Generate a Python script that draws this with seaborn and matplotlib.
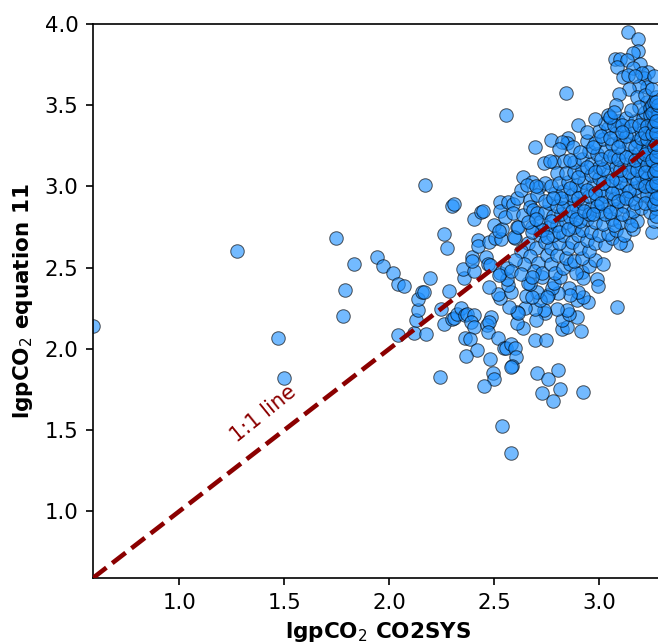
import matplotlib
matplotlib.use("Agg")
import matplotlib.pyplot as plt
import pandas as pd
import seaborn as sns

low_tail = [(0.59,2.14),(1.276,2.60),(1.47,2.07),(1.50,1.82),(1.745,2.68),(1.835,2.52),(1.79,2.36),(1.78,2.205),
(1.94,2.565),(1.97,2.51),(2.02,2.465),(2.04,2.40),(2.07,2.39),(2.04,2.085),(2.12,2.10),(2.175,2.09),(2.13,2.18),
(2.135,2.24),(2.135,2.305),(2.155,2.35),(2.165,2.35),(2.195,2.435),(2.17,3.01),(2.24,1.83),(2.26,2.705),(2.275,2.62),
(2.30,2.88),(2.31,2.89),(2.286,2.356),(2.248,2.245),(2.262,2.153),(2.30,2.184),(2.31,2.19),(2.324,2.214),(2.343,2.25),
(2.362,2.208),(2.371,2.214),(2.405,2.208),(2.39,2.165),(2.405,2.134),(2.486,2.196),(2.467,2.147),(2.476,2.165),
(2.471,2.103),(2.519,2.067),(2.362,2.067),(2.386,2.06),(2.419,1.993),(2.367,1.956),(2.481,1.937),(2.495,1.851),
(2.50,1.814),(2.452,1.771),(2.548,2.005),(2.557,2.005),(2.581,2.03),(2.60,2.005),(2.605,1.95),(2.586,1.894),
(2.581,1.888),(2.538,1.525),(2.581,1.358),(2.705,1.851),(2.757,1.814),(2.805,1.869),(2.814,1.752),(2.729,1.728),
(2.781,1.679),(2.924,1.734),(2.695,2.054),(2.748,2.054),(3.086,2.257),(2.914,2.11)]

mid_cluster = [(2.824,2.122),(2.848,2.134),(2.824,2.177),(2.895,2.196),(2.857,2.214),(2.848,2.239),(2.80,2.245),
(2.743,2.22),(2.738,2.239),(2.70,2.177),(2.695,2.245),(2.648,2.251),(2.638,2.128),(2.61,2.159),(2.61,2.227),
(2.614,2.22),(2.571,2.257),(2.529,2.313),(2.519,2.337),(2.476,2.38),(2.99,2.43),(2.995,2.387),(2.948,2.288),
(2.895,2.30),(2.924,2.319),(2.90,2.35),(2.857,2.374),(2.862,2.331),(2.805,2.344),(2.757,2.331),(2.776,2.374),
(2.786,2.405),(2.719,2.30),(2.705,2.35),(2.652,2.325),(2.681,2.319),(2.671,2.399),(2.662,2.405),(2.581,2.35),
(2.567,2.393),(2.562,2.43),(2.529,2.467),(2.729,2.442),(2.814,2.442),(2.919,2.473),(2.924,2.436),(2.752,2.319),
(2.562,2.498),(2.524,2.455),(2.357,2.436),(2.352,2.491),(2.405,2.479),(2.395,2.565),(2.395,2.54),(2.462,2.565),
(2.471,2.522),(2.481,2.516),(2.424,2.67),(2.424,2.633),(2.476,2.658),(2.505,2.682),(2.533,2.676),(2.50,2.762),
(2.538,2.738),(2.524,2.725),(2.405,2.80),(2.438,2.842),(2.448,2.849),(2.529,2.904),(2.529,2.849),(2.552,2.812),
(2.567,2.904),(2.59,2.892),(2.59,2.836),(2.61,2.929),(2.61,2.75),(2.60,2.682),(2.595,2.688),(2.614,2.75),
(2.557,3.44),(2.695,3.243),(2.771,3.286),(2.852,3.298),(2.848,3.267),(2.824,3.273),(2.876,3.243),(2.81,3.23),
(2.738,3.144),(2.786,3.15),(2.764,3.155),(2.833,3.156),(2.80,3.083),(2.638,3.058),(2.681,3.027),(2.714,2.996),
(2.743,3.021),(2.629,2.978),(2.657,3.009),(2.671,2.916),(2.705,2.947),(2.638,2.824),(2.671,2.873),(2.686,2.855),
(2.705,2.836),(2.681,2.75),(2.72,2.70),(2.66,2.65),(2.70,2.62),(2.74,2.66),(2.63,2.60),(2.67,2.57),(2.71,2.53),
(2.75,2.58),(2.69,2.48),(2.73,2.47),(2.77,2.52),(2.64,2.52),(2.60,2.55),(2.58,2.48),(2.63,2.46),(2.68,2.44),
(2.79,2.47),(2.83,2.50),(2.86,2.52),(2.89,2.47),(2.95,2.51),(2.98,2.55),(2.77,2.62),(2.80,2.58),(2.84,2.56),
(2.88,2.54),(2.92,2.56),(2.85,2.62),(2.81,2.65),(2.78,2.70),(2.83,2.70),(2.87,2.66),(2.91,2.62),(2.95,2.60),
(2.90,2.70),(2.94,2.67),(2.98,2.65),(3.03,2.64),(3.06,2.68),(3.02,2.52),(3.13,2.64),(3.10,2.65)]

upper_blob = [(2.72,2.78),(2.76,2.75),(2.80,2.76),(2.84,2.78),(2.88,2.75),(2.92,2.73),(2.96,2.72),(3.00,2.70),
(3.04,2.71),(3.08,2.73),(3.12,2.70),(3.16,2.74),(2.74,2.84),(2.78,2.82),(2.82,2.83),(2.86,2.81),(2.90,2.84),
(2.94,2.80),(2.98,2.78),(3.02,2.77),(3.06,2.80),(3.10,2.78),(3.14,2.81),(3.18,2.79),(2.76,2.90),(2.80,2.88),
(2.84,2.91),(2.88,2.89),(2.92,2.90),(2.96,2.87),(3.00,2.85),(3.04,2.88),(3.08,2.86),(3.12,2.88),(3.16,2.85),
(3.20,2.87),(2.79,2.96),(2.83,2.97),(2.87,2.95),(2.91,2.97),(2.95,2.94),(2.99,2.92),(3.03,2.94),(3.07,2.92),
(3.11,2.95),(3.15,2.92),(3.19,2.95),(2.77,3.00),(2.81,3.02),(2.85,3.03),(2.89,3.01),(2.93,3.03),(2.97,3.00),
(3.01,2.98),(3.05,3.00),(3.09,2.98),(3.13,3.01),(3.17,2.99),(3.21,3.01),(2.84,3.08),(2.88,3.09),(2.92,3.10),
(2.96,3.07),(3.00,3.05),(3.04,3.08),(3.08,3.05),(3.12,3.07),(3.16,3.05),(3.20,3.07),(2.88,3.15),(2.92,3.17),
(2.96,3.14),(3.00,3.12),(3.04,3.15),(3.08,3.12),(3.12,3.14),(3.16,3.12),(3.20,3.14),(2.95,3.22),(2.99,3.20),
(3.03,3.22),(3.07,3.19),(3.11,3.21),(3.15,3.19),(3.19,3.21),(2.94,3.28),(2.98,3.27),(3.02,3.29),(3.06,3.26),
(3.10,3.28),(3.14,3.26),(3.18,3.28),(3.21,3.25),(3.00,3.34),(3.04,3.36),(3.08,3.33),(3.12,3.35),(3.16,3.33),
(3.20,3.35),(3.05,3.42),(3.09,3.40),(3.13,3.42),(3.17,3.40),(3.21,3.42),(2.74,2.91),(2.70,3.00),(2.86,3.16),
(2.83,2.87),(2.87,2.85),(2.91,2.79),(2.95,2.83),(2.99,2.88),(3.03,2.83),(3.07,2.76),(3.11,2.83),(3.15,2.76),
(2.82,2.93),(2.86,2.99),(2.90,2.93),(2.94,2.98),(2.98,2.96),(3.02,3.02),(3.06,2.96),(3.10,3.03),(3.14,2.97),
(3.18,3.03),(2.90,3.06),(2.94,3.12),(2.98,3.09),(3.02,3.11),(3.06,3.04),(3.10,3.10),(3.14,3.09),(3.18,3.10),
(2.91,3.21),(2.97,3.24),(3.01,3.17),(3.05,3.19),(3.09,3.17),(3.13,3.18),(3.17,3.16),(3.21,3.18),(3.01,3.31),
(3.05,3.30),(3.09,3.24),(3.13,3.31),(3.17,3.24),(3.20,3.30),(3.03,3.39),(3.07,3.38),(3.11,3.38),(3.15,3.37),
(3.19,3.38),(2.78,2.93),(2.73,2.73),(2.77,2.79),(2.81,2.72),(2.85,2.74),(2.89,2.80),(2.93,2.85),(2.97,2.83),
(3.01,2.90),(3.05,2.84),(3.09,2.91),(3.13,2.93),(3.17,2.90),(2.68,2.72),(2.66,2.78),(2.70,2.80),(2.75,2.69)]

top_edge = [(3.138,3.95),(3.186,3.908),(3.186,3.834),(3.162,3.82),(3.076,3.785),(3.10,3.785),(3.133,3.778),
(3.086,3.735),(3.195,3.754),(3.233,3.704),(3.162,3.73),(3.114,3.674),(3.138,3.686),(3.214,3.667),(3.229,3.612),
(3.19,3.618),(3.143,3.60),(3.095,3.569),(2.843,3.575),(3.181,3.55),(3.229,3.52),(3.081,3.50),(2.981,3.415),
(2.90,3.378),(3.043,3.44),(3.219,3.458),(2.943,3.335),(3.11,3.335),(3.205,3.70),(3.17,3.68),(3.22,3.56),(3.19,3.49),
(3.15,3.47),(3.05,3.43),(3.07,3.46),(3.24,3.48)]

right_column = [(3.25,2.72),(3.26,2.79),(3.24,2.84),(3.27,2.87),(3.25,2.91),(3.26,2.95),(3.27,2.98),(3.24,3.00),
(3.26,3.03),(3.27,3.06),(3.25,3.09),(3.26,3.12),(3.27,3.15),(3.24,3.17),(3.26,3.20),(3.27,3.22),(3.25,3.25),
(3.26,3.28),(3.27,3.30),(3.24,3.32),(3.26,3.34),(3.27,3.36),(3.25,3.39),(3.26,3.41),(3.27,3.43),(3.24,3.44),
(3.26,3.46),(3.27,3.48),(3.25,3.50),(3.26,3.52),(3.27,3.55),(3.25,3.60),(3.26,3.68),(3.28,2.92),(3.28,3.02),
(3.28,3.10),(3.28,3.18),(3.28,3.26),(3.28,3.33),(3.28,3.40),(3.28,3.47),(3.23,2.95),(3.23,3.05),(3.23,3.13),
(3.23,3.22),(3.23,3.29),(3.23,3.37),(3.22,2.90),(3.22,3.00),(3.22,3.09),(3.22,3.20),(3.22,3.33),
(3.27,2.82),(3.26,2.89),(3.28,2.96),(3.25,3.00),(3.28,3.06),(3.26,3.08),(3.28,3.14),(3.25,3.16),(3.28,3.22),
(3.26,3.24),(3.28,3.30),(3.25,3.32),(3.28,3.37),(3.26,3.38),(3.28,3.44),(3.25,3.45),(3.28,3.50),(3.27,3.52),
(3.27,2.93),(3.27,3.02),(3.27,3.10),(3.27,3.19),(3.27,3.26),(3.27,3.33),(3.27,3.40)]

x_label = r"lgpCO$_{\mathrm{2}}$ CO2SYS"
y_label = r"lgpCO$_{\mathrm{2}}$ equation 11"
x_ticks = [1.0, 1.5, 2.0, 2.5, 3.0]
y_ticks = [1.0, 1.5, 2.0, 2.5, 3.0, 3.5, 4.0]
limits_x = (0.59, 3.28)
limits_y = (0.59, 4.0)
line_ends = [0.59, 3.28]

all_points = low_tail + mid_cluster + upper_blob + top_edge + right_column
df = pd.DataFrame(all_points, columns=["x", "y"])

sns.set_style("ticks")
plt.rcParams["font.family"] = "DejaVu Sans"
fig = plt.figure(figsize=(658/150, 644/150), dpi=150)
ax = fig.add_axes([93/658, 1-578/644, (658-93)/658, (578-24)/644])
sns.scatterplot(data=df, x="x", y="y", ax=ax, color="dodgerblue", alpha=0.62,
                edgecolor="black", linewidth=0.5, s=42, zorder=2)
sns.lineplot(x=line_ends, y=line_ends, ax=ax, color="darkred", lw=2.2, linestyle="--", zorder=3)
ax.set_xlim(*limits_x)
ax.set_ylim(*limits_y)
ax.set_xticks(x_ticks)
ax.set_yticks(y_ticks)
ax.tick_params(labelsize=10.2, length=3.5, width=0.8, color="black", labelcolor="black")
ax.set_xlabel(x_label, fontsize=10.3, fontweight="bold", labelpad=3.5, color="black")
ax.set_ylabel(y_label, fontsize=10.3, fontweight="bold", labelpad=4.5, color="black")
ax.xaxis.label.set_x(0.504)
for s in ax.spines.values():
    s.set_color("black")
    s.set_linewidth(0.8)
ax.spines["right"].set_visible(False)
ax.text(1.40, 1.60, "1:1 line", color="darkred", fontsize=10, rotation=39,
        ha="center", va="center", rotation_mode="anchor")
fig.savefig("out.png", dpi=150)
